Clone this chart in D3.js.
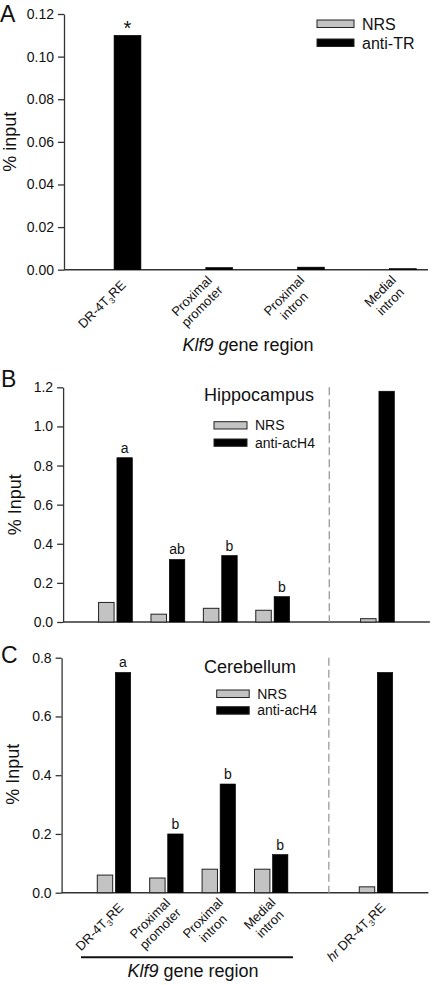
<!DOCTYPE html>
<html>
<head>
<meta charset="utf-8">
<script src="https://cdn.jsdelivr.net/npm/d3@7"></script>
<style>
  html, body { margin: 0; padding: 0; background: #fff; }
  svg { display: block; font-family: "Liberation Sans", Arial, sans-serif; }
</style>
</head>
<body>
<svg id="chart" width="433" height="985"></svg>
<script>
// ---------------- data ----------------
const regionsA = ["DR-4T₃RE", "Proximal\npromoter", "Proximal\nintron", "Medial\nintron"];
const nrsA = [0, 0, 0, 0];
const antiTR = [0.110, 0.0010, 0.0012, 0.0005];
const sigA = ["*", "", "", ""];
const ticksA = [0, 0.02, 0.04, 0.06, 0.08, 0.10, 0.12];

const regionsBC = ["DR-4T₃RE", "Proximal\npromoter", "Proximal\nintron", "Medial\nintron", "hr DR-4T₃RE"];
const nrsB = [0.10, 0.04, 0.07, 0.06, 0.017];
const acH4B = [0.84, 0.32, 0.34, 0.13, 1.18];
const sigB = ["a", "ab", "b", "b", ""];
const ticksB = [0, 0.2, 0.4, 0.6, 0.8, 1.0, 1.2];

const nrsC = [0.06, 0.05, 0.08, 0.08, 0.02];
const acH4C = [0.75, 0.20, 0.37, 0.13, 0.75];
const sigC = ["a", "b", "b", "b", ""];
const ticksC = [0, 0.2, 0.4, 0.6, 0.8];

// ---------------- drawing ----------------
const svg = d3.select("#chart");
const FONT = "Liberation Sans, Arial, sans-serif";
const AXIS = "#333";
const GREY = "#c3c3c3";

function slotOf(i, n) { return (n === 5 && i === 4) ? 5 : i; } // gap before the hr region

function drawPanel(cfg) {
  const g = svg.append("g");
  const x = d3.scaleLinear().domain(cfg.xDomain).range(cfg.xRange);
  const y = d3.scaleLinear().domain([0, cfg.ymax]).range(cfg.yRange);
  const slotW = (cfg.xRange[1] - cfg.xRange[0]) / (cfg.xDomain[1] - cfg.xDomain[0]);
  const bw = slotW * cfg.barFrac;
  const off = slotW * cfg.offFrac;
  const n = cfg.cats.length;

  // y axis
  const ax = d3.axisLeft(y).tickValues(cfg.ticks).tickFormat(d3.format(cfg.fmt))
    .tickSize(6).tickSizeOuter(0).tickPadding(4);
  const ag = g.append("g").attr("transform", `translate(${cfg.xRange[0]},0)`).call(ax);
  ag.selectAll("path,line").attr("stroke", AXIS).attr("stroke-width", 1.3);
  ag.selectAll("text").attr("font-family", FONT).attr("font-size", 14).attr("fill", "#111");

  // x axis line
  g.append("line").attr("x1", cfg.xRange[0]).attr("x2", cfg.xRange[1])
    .attr("y1", y(0)).attr("y2", y(0)).attr("stroke", AXIS).attr("stroke-width", 1.5);

  // dashed separator
  if (cfg.dashSlot !== undefined) {
    g.append("line").attr("x1", x(cfg.dashSlot)).attr("x2", x(cfg.dashSlot))
      .attr("y1", y(cfg.ymax)).attr("y2", y(0))
      .attr("stroke", "#9a9a9a").attr("stroke-width", 1.3).attr("stroke-dasharray", "8,4");
  }

  // bars
  const idx = d3.range(n);
  g.selectAll("rect.nrs").data(idx.filter(i => cfg.s1[i] > 0)).enter().append("rect")
    .attr("x", i => x(slotOf(i, n)) - off - bw / 2).attr("width", bw)
    .attr("y", i => y(cfg.s1[i])).attr("height", i => y(0) - y(cfg.s1[i]))
    .attr("fill", GREY).attr("stroke", "#222").attr("stroke-width", 1);
  g.selectAll("rect.anti").data(idx.filter(i => cfg.s2[i] > 0)).enter().append("rect")
    .attr("x", i => x(slotOf(i, n)) + off - bw / 2).attr("width", bw)
    .attr("y", i => y(cfg.s2[i])).attr("height", i => y(0) - y(cfg.s2[i]))
    .attr("fill", "#000").attr("stroke", "#000").attr("stroke-width", 0.6);

  // significance letters
  g.selectAll("text.sig").data(idx.filter(i => cfg.sig[i])).enter().append("text")
    .attr("x", i => x(slotOf(i, n)) + off)
    .attr("y", i => y(cfg.s2[i]) - (cfg.sig[i] === "*" ? 0 : 5))
    .attr("text-anchor", "middle").attr("font-family", FONT)
    .attr("font-size", i => cfg.sig[i] === "*" ? 20 : 14).attr("fill", "#111")
    .text(i => cfg.sig[i]);

  // x tick labels
  if (cfg.showX) {
    cfg.cats.forEach((c, i) => {
      const cx = x(slotOf(i, n));
      rotatedLabel(g, c, cx + cfg.lblDx, y(0) + cfg.lblDy);
    });
  }

  // y title
  g.append("text").attr("transform", `translate(${cfg.yTitleX},${(cfg.yRange[0] + cfg.yRange[1]) / 2 + cfg.yTitleDy}) rotate(-90)`)
    .attr("text-anchor", "middle").attr("font-family", FONT).attr("font-size", 18).attr("fill", "#111")
    .text(cfg.yTitle);

  // panel letter
  g.append("text").attr("x", cfg.letterX).attr("y", cfg.letterY).attr("font-family", FONT)
    .attr("font-size", 23).attr("fill", "#111").text(cfg.letter);

  return { x, y };
}

function addSegments(t, line) {
  // italic "hr" prefix and subscript ₃
  let rest = line;
  if (rest.startsWith("hr ")) {
    t.append("tspan").attr("font-style", "italic").text("hr ");
    rest = rest.slice(3);
  }
  const parts = rest.split("₃");
  parts.forEach((p, k) => {
    if (k > 0) {
      t.append("tspan").attr("font-size", 8.5).attr("dy", 3).text("3");
      t.append("tspan").attr("dy", -3).text(p);
    } else {
      t.append("tspan").text(p);
    }
  });
}

function rotatedLabel(g, label, ax, ay) {
  const fs = 13, lh = 14.5;
  const outer = g.append("g").attr("transform", `translate(${ax},${ay}) rotate(-45)`);
  const inner = outer.append("g");
  const lines = label.split("\n");
  let W = 0;
  lines.forEach((ln, i) => {
    const t = inner.append("text").attr("x", 0).attr("y", i * lh)
      .attr("text-anchor", "middle").attr("font-family", FONT).attr("font-size", fs).attr("fill", "#111");
    addSegments(t, ln);
    W = Math.max(W, t.node().getComputedTextLength());
  });
  const mid = ((lines.length - 1) * lh) / 2 - 0.35 * fs;
  inner.attr("transform", `translate(${-W / 2},${-mid})`);
}

function legend(x0, y0, gapY, rectW, rectH, fs, names) {
  const g = svg.append("g");
  names.forEach((nm, i) => {
    g.append("rect").attr("x", x0).attr("y", y0 + i * gapY).attr("width", rectW).attr("height", rectH)
      .attr("fill", i === 0 ? GREY : "#000").attr("stroke", "#222").attr("stroke-width", 1);
    g.append("text").attr("x", x0 + rectW + 8).attr("y", y0 + i * gapY + rectH / 2 + fs * 0.36)
      .attr("font-family", FONT).attr("font-size", fs).attr("fill", "#111").text(nm);
  });
}

// ---------------- Panel A ----------------
drawPanel({
  cats: regionsA, s1: nrsA, s2: antiTR, sig: sigA, ticks: ticksA, fmt: ".2f", ymax: 0.12,
  xDomain: [-0.527, 3.44], xRange: [64, 428], yRange: [269.7, 14],
  barFrac: 0.293, offFrac: 0.165, showX: true, lblDx: 11, lblDy: 13,
  yTitle: "% input", yTitleX: 16, yTitleDy: 0, letter: "A", letterX: 0, letterY: 22
});
legend(317, 20, 19, 37, 7.5, 16, ["NRS", "anti-TR"]);
{
  const t = svg.append("text").attr("x", 248).attr("y", 351).attr("text-anchor", "middle")
    .attr("font-family", FONT).attr("font-size", 18).attr("fill", "#111");
  t.append("tspan").attr("font-style", "italic").text("Klf9 g");
  t.append("tspan").text("ene region");
}

// ---------------- Panel B ----------------
drawPanel({
  cats: regionsBC, s1: nrsB, s2: acH4B, sig: sigB, ticks: ticksB, fmt: ".1f", ymax: 1.2,
  xDomain: [-1, 6], xRange: [63.1, 429.9], yRange: [622, 387.3],
  barFrac: 0.296, offFrac: 0.175, showX: false, dashSlot: 4.08,
  yTitle: "% Input", yTitleX: 21, yTitleDy: 0, letter: "B", letterX: 1, letterY: 387
});
svg.append("text").attr("x", 204).attr("y", 400.5).attr("font-family", FONT).attr("font-size", 18)
  .attr("fill", "#111").text("Hippocampus");
legend(214, 421.7, 17.3, 33, 7.3, 14, ["NRS", "anti-acH4"]);

// ---------------- Panel C ----------------
drawPanel({
  cats: regionsBC, s1: nrsC, s2: acH4C, sig: sigC, ticks: ticksC, fmt: ".1f", ymax: 0.8,
  xDomain: [-1, 6], xRange: [61.6, 428.4], yRange: [892.7, 657.7],
  barFrac: 0.294, offFrac: 0.172, showX: true, lblDx: 7, lblDy: 12.5, dashSlot: 4.1,
  yTitle: "% Input", yTitleX: 19, yTitleDy: -1, letter: "C", letterX: 1, letterY: 663
});
svg.append("text").attr("x", 204).attr("y", 673).attr("font-family", FONT).attr("font-size", 18)
  .attr("fill", "#111").text("Cerebellum");
legend(216.7, 690, 16.7, 32.5, 7.5, 14, ["NRS", "anti-acH4"]);
svg.append("line").attr("x1", 81).attr("x2", 293).attr("y1", 957.3).attr("y2", 957.3)
  .attr("stroke", "#111").attr("stroke-width", 2);
{
  const t = svg.append("text").attr("x", 193).attr("y", 977).attr("text-anchor", "middle")
    .attr("font-family", FONT).attr("font-size", 18).attr("fill", "#111");
  t.append("tspan").attr("font-style", "italic").text("Klf9");
  t.append("tspan").text(" gene region");
}
</script>
</body>
</html>
